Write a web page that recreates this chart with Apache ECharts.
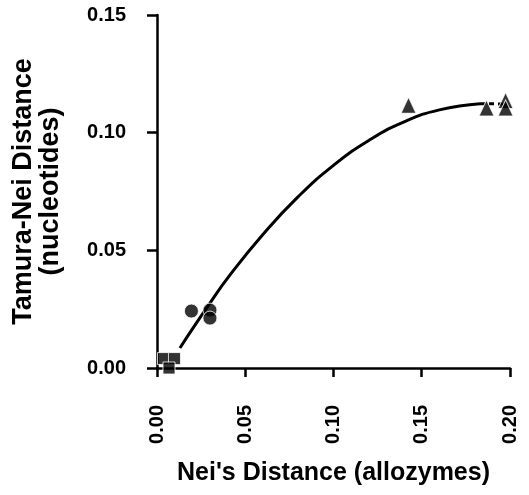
<!DOCTYPE html>
<html>
<head>
<meta charset="utf-8">
<script src="https://cdn.jsdelivr.net/npm/echarts@6/dist/echarts.min.js"></script>
<style>
html,body{margin:0;padding:0;background:#fff;}
#chart{width:529px;height:495px;}
</style>
</head>
<body>
<div id="chart"></div>
<script>
// Data
var squaresX = [0.0037, 0.0099, 0.0068];
var squaresY = [0.0040, 0.0040, 0.0000];
var circlesX = [0.0195, 0.0300, 0.0300];
var circlesY = [0.0242, 0.0246, 0.0212];
var trianglesX = [0.1425, 0.1867, 0.1975, 0.1975];
var trianglesY = [0.1116, 0.1105, 0.1137, 0.1105];
// fitted curve
var fitX = [0.013, 0.020, 0.030, 0.040, 0.060, 0.080, 0.100, 0.120, 0.140, 0.160, 0.183];
var fitY = [0.0085, 0.0165, 0.0276, 0.0382, 0.0567, 0.0728, 0.0861, 0.0967, 0.1046, 0.1097, 0.1123];
var fitDashX = [0.183, 0.1975];
var fitDashY = [0.1123, 0.1122];
var xTicks = [0, 0.05, 0.10, 0.15, 0.20];
var yTicks = [0, 0.05, 0.10, 0.15];

function pairs(xs, ys){ return xs.map(function(x,i){ return [x, ys[i]]; }); }

var FONT = '"Liberation Sans", Arial, Helvetica, sans-serif';
var chart = echarts.init(document.getElementById('chart'), null, {renderer:'canvas'});
var markerStyle = {color:'#000', borderColor:'#fff', borderWidth:1};
chart.setOption({
  animation:false,
  backgroundColor:'#fff',
  grid:{left:157, right:19, top:15, bottom:127},
  xAxis:{
    type:'value', min:xTicks[0], max:xTicks[xTicks.length-1], interval:0.05,
    offset:15,
    name:"Nei's Distance (allozymes)", nameLocation:'middle', nameGap:78,
    nameTextStyle:{fontFamily:FONT, fontSize:25, fontWeight:'bold', color:'#000'},
    axisLine:{show:true, lineStyle:{color:'#000', width:2.5}},
    axisTick:{show:true, length:9, lineStyle:{color:'#000', width:2.5}},
    axisLabel:{rotate:90, margin:22, fontFamily:FONT, fontSize:20, fontWeight:'bold', color:'#000',
      formatter:function(v){return v.toFixed(2);}},
    splitLine:{show:false}
  },
  yAxis:{
    type:'value', min:yTicks[0], max:yTicks[yTicks.length-1], interval:0.05,
    offset:7,
    name:'Tamura-Nei Distance\n(nucleotides)', nameLocation:'middle', nameGap:86,
    nameTextStyle:{fontFamily:FONT, fontSize:27, lineHeight:27, fontWeight:'bold', color:'#000'},
    axisLine:{show:true, lineStyle:{color:'#000', width:2.5}},
    axisTick:{show:true, length:10, lineStyle:{color:'#000', width:2.5}},
    axisLabel:{margin:24, fontFamily:FONT, fontSize:20, fontWeight:'bold', color:'#000',
      formatter:function(v){return v.toFixed(2);}},
    splitLine:{show:false}
  },
  series:[
    {type:'line', data:pairs(fitX, fitY), smooth:true, showSymbol:false, symbol:'none',
      lineStyle:{color:'#000', width:3}, z:1},
    {type:'line', data:pairs(fitDashX, fitDashY), showSymbol:false, symbol:'none',
      lineStyle:{color:'#000', width:3, type:[5,4]}, z:1},
    {type:'scatter', data:pairs(squaresX, squaresY), symbol:'rect', symbolSize:12,
      itemStyle:markerStyle, z:3},
    {type:'scatter', data:pairs(circlesX, circlesY), symbol:'circle', symbolSize:14,
      itemStyle:markerStyle, z:3},
    {type:'scatter', data:pairs(trianglesX, trianglesY), symbol:'triangle', symbolSize:[15,16],
      itemStyle:markerStyle, z:3}
  ]
});
</script>
</body>
</html>
